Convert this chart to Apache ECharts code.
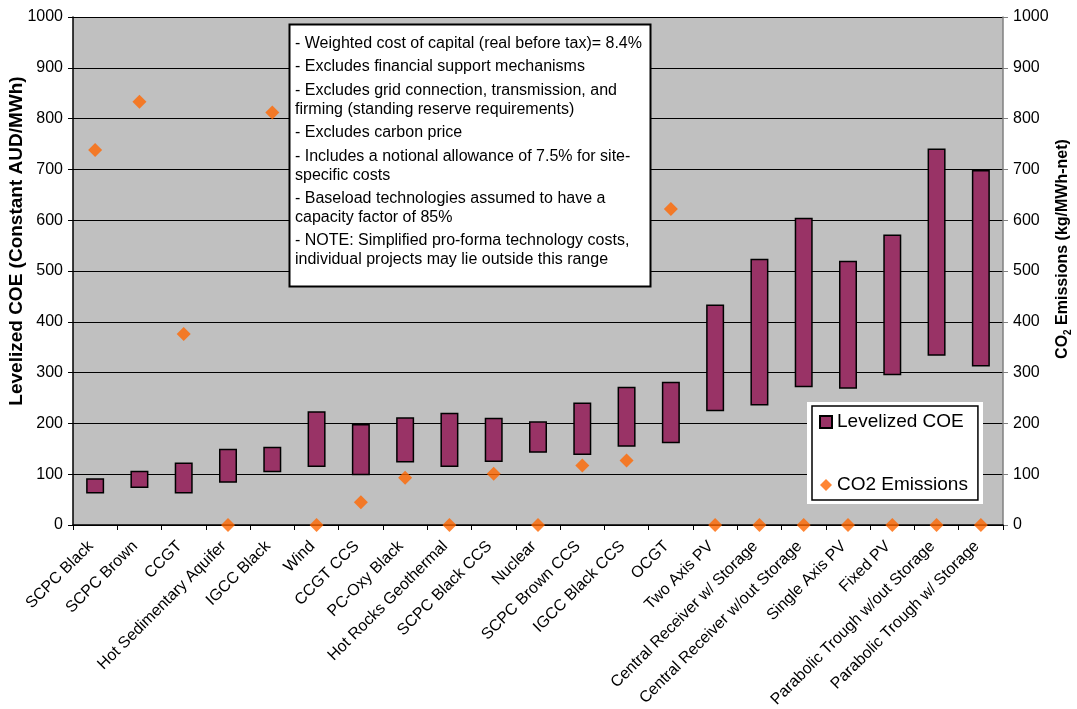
<!DOCTYPE html>
<html>
<head>
<meta charset="utf-8">
<script src="https://cdn.jsdelivr.net/npm/echarts@6/dist/echarts.min.js"></script>
<style>
  html, body { margin: 0; padding: 0; background: #fff; }
  #chart { width: 1077px; height: 709px; }
</style>
</head>
<body>
<div id="chart"></div>
<script>
// Technologies, in the order they are plotted
const categories = [
  'SCPC Black', 'SCPC Brown', 'CCGT', 'Hot Sedimentary Aquifer', 'IGCC Black',
  'Wind', 'CCGT CCS', 'PC-Oxy Black', 'Hot Rocks Geothermal', 'SCPC Black CCS',
  'Nuclear', 'SCPC Brown CCS', 'IGCC Black CCS', 'OCGT', 'Two Axis PV',
  'Central Receiver w/ Storage', 'Central Receiver w/out Storage', 'Single Axis PV',
  'Fixed PV', 'Parabolic Trough w/out Storage', 'Parabolic Trough w/ Storage'
];

// Levelized cost of electricity range (AUD/MWh): low and high ends
const coeLow  = [62, 73, 62, 83, 104, 114, 98, 123, 114, 124, 142, 138, 154, 161, 224, 235, 271, 268, 295, 333, 312];
const coeHigh = [92, 107, 123, 150, 154, 224, 199, 212, 221, 211, 204, 241, 272, 282, 434, 524, 605, 520, 572, 741, 699];

// CO2 emissions (kg/MWh-net)
const co2 = [738, 833, 376, 0, 812, 0, 45, 93, 0, 101, 0, 117, 127, 622, 0, 0, 0, 0, 0, 0, 0];

// Assumption notes shown in the box, one array per bullet
const notes = [
  ['- Weighted cost of capital (real before tax)= 8.4%'],
  ['- Excludes financial support mechanisms'],
  ['- Excludes grid connection, transmission, and', 'firming (standing reserve requirements)'],
  ['- Excludes carbon price'],
  ['- Includes a notional allowance of 7.5% for site-', 'specific costs'],
  ['- Baseload technologies assumed to have a', 'capacity factor of 85%'],
  ['- NOTE: Simplified pro-forma technology costs,', 'individual projects may lie outside this range']
];

const FONT = '"Liberation Sans", Arial, Helvetica, sans-serif';
const coeSpan = coeHigh.map((h, i) => h - coeLow[i]);

// Note box text lines
const noteTexts = [];
let ny = 43.3;
notes.forEach(par => {
  par.forEach((line, j) => {
    noteTexts.push({
      type: 'text', x: 295, y: ny, z: 11,
      style: { text: line, fill: '#000', font: '16px ' + FONT, verticalAlign: 'middle', align: 'left' }
    });
    ny += (j < par.length - 1) ? 18.5 : 0;
  });
  ny += 23.7;
});

const chart = echarts.init(document.getElementById('chart'), null, { renderer: 'canvas' });

const yAxisCommon = {
  type: 'value', min: 0, max: 1000, interval: 100,
  axisLabel: { color: '#000', fontSize: 16, fontFamily: FONT, margin: 10, formatter: v => String(v) },
  axisTick: { show: true, length: 5, lineStyle: { color: '#000' } }
};

chart.setOption({
  animation: false,
  textStyle: { fontFamily: FONT },
  grid: {
    left: 73, right: 74, top: 17, bottom: 184,
    containLabel: false, outerBoundsMode: 'none',
    show: true, backgroundColor: '#C0C0C0', borderWidth: 0
  },
  xAxis: {
    type: 'category', data: categories, boundaryGap: true,
    axisLine: { lineStyle: { color: '#000', width: 1.5 } },
    axisTick: { show: true, length: 5, alignWithLabel: false, lineStyle: { color: '#000' } },
    axisLabel: {
      interval: 0, rotate: 45, color: '#000', fontSize: 16, fontFamily: FONT,
      margin: 23, lineHeight: 12, verticalAlign: 'bottom'
    }
  },
  yAxis: [
    Object.assign({}, yAxisCommon, {
      position: 'left',
      axisLine: { show: true, lineStyle: { color: '#000', width: 1.5 } },
      splitLine: { show: true, lineStyle: { color: '#000', width: 1 } }
    }),
    Object.assign({}, yAxisCommon, {
      position: 'right',
      axisLine: { show: true, lineStyle: { color: '#808080', width: 1.5 } },
      axisTick: { show: true, length: 5, lineStyle: { color: '#808080' } },
      splitLine: { show: false }
    })
  ],
  legend: {
    left: 812, top: 406, orient: 'vertical', z: 12,
    backgroundColor: '#fff', borderColor: '#000', borderWidth: 1.5,
    padding: [6, 10, 5, 7],
    itemWidth: 12, itemHeight: 12, itemGap: 43,
    textStyle: { color: '#000', fontSize: 19, fontFamily: FONT, lineHeight: 20 },
    data: [
      { name: 'Levelized COE', icon: 'rect' },
      { name: 'CO2 Emissions', icon: 'diamond', itemStyle: { color: '#FF6600' } }
    ]
  },
  graphic: [
    // white frame around the legend
    { type: 'rect', z: 10, shape: { x: 807, y: 402, width: 176, height: 102 }, style: { fill: '#fff' } },
    // notes box
    { type: 'rect', z: 10, shape: { x: 289.5, y: 24.5, width: 361, height: 262 }, style: { fill: '#fff', stroke: '#000', lineWidth: 2 } },
    ...noteTexts,
    // axis titles
    {
      type: 'text', x: 17, y: 241, rotation: Math.PI / 2, z: 11,
      style: { text: 'Levelized COE (Constant AUD/MWh)', font: 'bold 19px ' + FONT, fill: '#000', align: 'center', verticalAlign: 'middle' }
    },
    {
      type: 'text', x: 1063, y: 249, rotation: Math.PI / 2, z: 11,
      style: {
        text: '{a|CO}{s|2}{a| Emissions (kg/MWh-net)}',
        align: 'center', verticalAlign: 'middle',
        rich: {
          a: { font: 'bold 16px ' + FONT, fill: '#000', lineHeight: 20 },
          s: { font: 'bold 10px ' + FONT, fill: '#000', lineHeight: 20, verticalAlign: 'bottom' }
        }
      }
    }
  ],
  series: [
    {
      name: 'base', type: 'bar', stack: 'coe', data: coeLow, barWidth: 18,
      itemStyle: { color: 'transparent', borderWidth: 0 }, silent: true, legendHoverLink: false
    },
    {
      name: 'Levelized COE', type: 'bar', stack: 'coe', data: coeSpan, barWidth: 18,
      itemStyle: { color: '#993366', borderColor: '#000', borderWidth: 1.5 }
    },
    {
      name: 'CO2 Emissions', type: 'scatter', yAxisIndex: 1, data: co2,
      symbol: 'diamond', symbolSize: 14, clip: false, z: 5,
      itemStyle: { color: '#FF6600' }
    }
  ]
});
</script>
</body>
</html>
